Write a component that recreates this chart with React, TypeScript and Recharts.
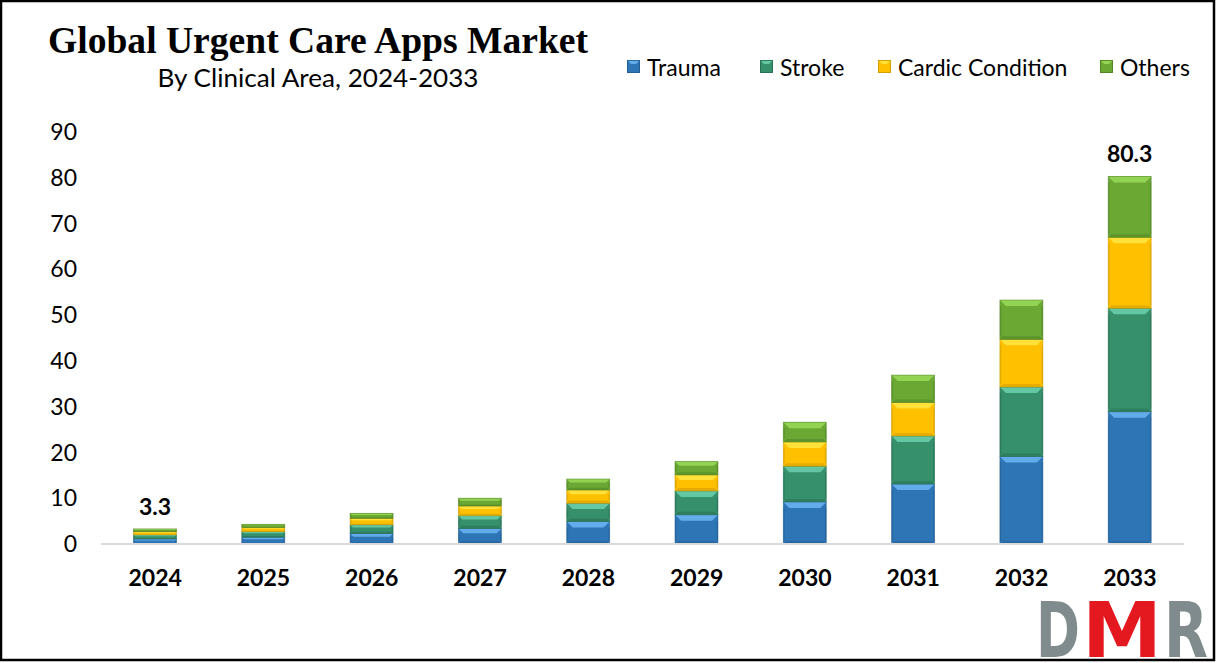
import React from 'react';
import { BarChart, Bar, XAxis, YAxis, LabelList } from 'recharts';

const years = ['2024', '2025', '2026', '2027', '2028', '2029', '2030', '2031', '2032', '2033'];
const trauma = [1.1, 1.5, 2.3, 3.4, 4.9, 6.4, 9.2, 13.1, 19.1, 28.9];
const stroke = [0.9, 1.2, 1.9, 2.8, 4.0, 5.2, 7.8, 10.5, 15.2, 22.6];
const cardic = [0.7, 0.9, 1.4, 2.1, 2.9, 3.5, 5.3, 7.3, 10.4, 15.5];
const others = [0.6, 0.7, 1.1, 1.7, 2.4, 2.9, 4.3, 6.0, 8.6, 13.3];
const totalLabels = ['3.3', '', '', '', '', '', '', '', '', '80.3'];
const yTicks = [0, 10, 20, 30, 40, 50, 60, 70, 80, 90];

const seriesInfo = [
  { key: 'trauma', name: 'Trauma', base: '#2e75b6', light: '#63acec', dark: '#215a8e' },
  { key: 'stroke', name: 'Stroke', base: '#36906b', light: '#62c7a2', dark: '#256b4e' },
  { key: 'cardic', name: 'Cardic Condition', base: '#ffc000', light: '#ffe13a', dark: '#c89600' },
  { key: 'others', name: 'Others', base: '#6aa833', light: '#93d354', dark: '#4c7e22' },
];

const data = years.map((year, i) => ({
  year,
  trauma: trauma[i],
  stroke: stroke[i],
  cardic: cardic[i],
  others: others[i],
  label: totalLabels[i],
}));

const FONT = 'Lato, Carlito, "Open Sans", sans-serif';

function makeShape(base: string, light: string, dark: string) {
  return (props: any) => {
    const { x, y, width, height } = props;
    if (!height || height <= 0) return <g />;
    const b = Math.max(1, Math.min(6, height / 3.2, width / 5));
    const bb = Math.max(0.5, Math.min(3, height / 5));
    const s = Math.min(1.5, width / 10);
    return (
      <g>
        <rect x={x} y={y} width={width} height={height} fill={base} />
        <polygon
          points={`${x},${y} ${x + width},${y} ${x + width - b},${y + b} ${x + b},${y + b}`}
          fill={light}
        />
        <polygon
          points={`${x},${y + height} ${x + width},${y + height} ${x + width - bb},${y + height - bb} ${x + bb},${y + height - bb}`}
          fill={dark}
          opacity={0.45}
        />
        <rect x={x} y={y + b} width={s} height={Math.max(0, height - b - bb)} fill={dark} opacity={0.4} />
        <rect x={x + width - s} y={y + b} width={s} height={Math.max(0, height - b - bb)} fill={dark} opacity={0.4} />
        <rect x={x} y={y} width={width} height={height} fill="none" stroke={dark} strokeWidth={0.8} strokeOpacity={0.6} />
      </g>
    );
  };
}

const legendOffsets = [0, 133, 251, 473];

const LegendBlock = () => (
  <div style={{ position: 'absolute', left: 627, top: 53, width: 600, height: 30 }}>
    {seriesInfo.map((s, i) => (
      <div
        key={s.key}
        style={{
          position: 'absolute',
          left: legendOffsets[i],
          top: 0,
          display: 'flex',
          alignItems: 'center',
          fontFamily: FONT,
          fontSize: 23,
          color: '#000',
          whiteSpace: 'nowrap',
        }}
      >
        <svg width={14} height={14} style={{ marginRight: 6 }}>
          <rect x={0} y={0} width={13} height={13} fill={s.base} />
          <polygon points="0,0 13,0 9,4 4,4" fill={s.light} />
          <rect x={0.5} y={0.5} width={12} height={12} fill="none" stroke={s.dark} strokeWidth={0.8} />
        </svg>
        <span>{s.name}</span>
      </div>
    ))}
  </div>
);

export default function App() {
  return (
    <div style={{ position: 'absolute', left: 0, top: 0, width: 1216, height: 663, background: '#fff', overflow: 'hidden' }}>
      <svg width={1216} height={110} style={{ position: 'absolute', left: 0, top: 0 }}>
        <text
          x={318}
          y={53}
          textAnchor="middle"
          fontFamily='"Liberation Serif", "Times New Roman", serif'
          fontWeight="bold"
          fontSize={37}
          fill="#000"
          textLength={540}
          lengthAdjust="spacingAndGlyphs"
        >
          Global Urgent Care Apps Market
        </text>
        <text
          x={318}
          y={87}
          textAnchor="middle"
          fontFamily={FONT}
          fontSize={25}
          fill="#000"
          textLength={321}
          lengthAdjust="spacingAndGlyphs"
        >
          By Clinical Area, 2024-2033
        </text>
      </svg>
      <LegendBlock />
      <div style={{ position: 'absolute', left: 0, top: 0 }}>
        <BarChart
          width={1216}
          height={663}
          data={data}
          margin={{ top: 132, right: 32, left: 0, bottom: 89 }}
          barCategoryGap="30%"
          style={{ fontFamily: FONT }}
        >
          <XAxis
            dataKey="year"
            height={30}
            tickLine={false}
            tickSize={0}
            tickMargin={26}
            axisLine={{ stroke: '#d9d9d9', strokeWidth: 2 }}
            tick={{ fontSize: 23, fontWeight: 'bold', fill: '#000', fontFamily: FONT }}
            interval={0}
          />
          <YAxis
            width={101}
            domain={[0, 90]}
            ticks={yTicks}
            axisLine={false}
            tickLine={false}
            tickSize={0}
            tickMargin={24}
            tick={{ fontSize: 23, fill: '#000', fontFamily: FONT }}
            interval={0}
          />
          {seriesInfo.map((s) => (
            <Bar
              key={s.key}
              dataKey={s.key}
              name={s.name}
              stackId="a"
              fill={s.base}
              isAnimationActive={false}
              shape={makeShape(s.base, s.light, s.dark)}
            >
              {s.key === 'others' ? (
                <LabelList
                  dataKey="label"
                  position="top"
                  offset={14}
                  style={{ fontSize: 23, fontWeight: 'bold', fill: '#000', fontFamily: FONT }}
                />
              ) : null}
            </Bar>
          ))}
        </BarChart>
      </div>
      <svg width={1216} height={663} style={{ position: 'absolute', left: 0, top: 0, pointerEvents: 'none' }}>
        <text x={1036} y={657} fontFamily='"DejaVu Sans", sans-serif' fontWeight="bold" fontSize={76} fill="#7f8b8c" textLength={44} lengthAdjust="spacingAndGlyphs">D</text>
        <text x={1082} y={657} fontFamily='"DejaVu Sans", sans-serif' fontWeight="bold" fontSize={76} fill="#e3191f" textLength={80} lengthAdjust="spacingAndGlyphs">M</text>
        <text x={1164} y={657} fontFamily='"DejaVu Sans", sans-serif' fontWeight="bold" fontSize={76} fill="#7f8b8c" textLength={44} lengthAdjust="spacingAndGlyphs">R</text>
        <rect x={1} y={1} width={1213} height={659} fill="none" stroke="#000" strokeWidth={2.5} />
      </svg>
    </div>
  );
}
